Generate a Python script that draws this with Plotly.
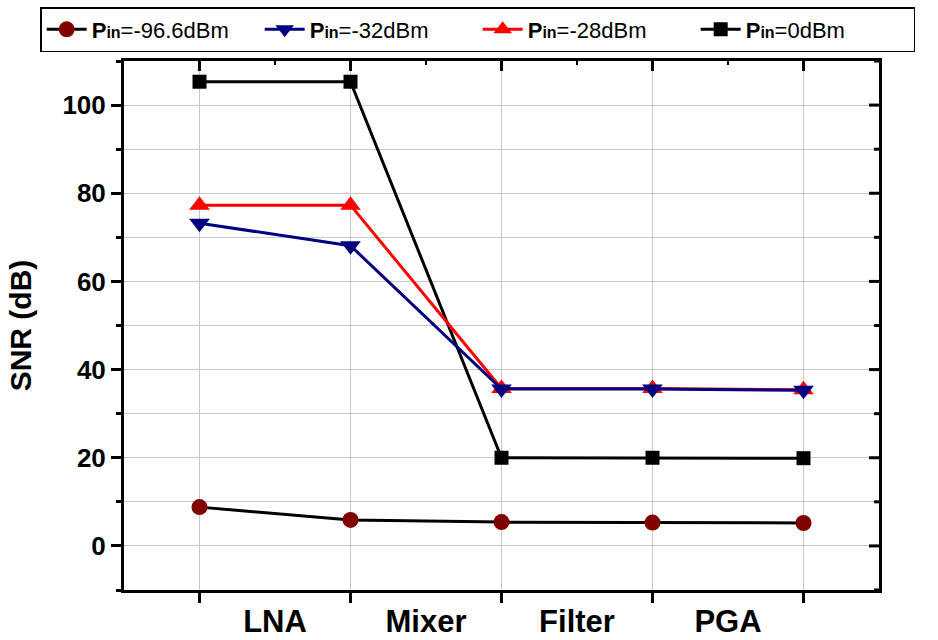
import plotly.graph_objects as go

# x positions: input of LNA, after LNA, after Mixer, after Filter, after PGA
x_pos = [1, 2, 3, 4, 5]
stage_pos = [1.5, 2.5, 3.5, 4.5]
stage_labels = ["LNA", "Mixer", "Filter", "PGA"]
y_major = [0, 20, 40, 60, 80, 100]
y_minor = [-10, 10, 30, 50, 70, 90, 110]

snr_m96 = [8.8, 5.9, 5.4, 5.3, 5.2]
snr_m32 = [73.2, 68.1, 35.6, 35.6, 35.3]
snr_m28 = [77.3, 77.3, 35.7, 35.7, 35.4]
snr_0 = [105.3, 105.3, 20.0, 20.0, 19.9]

FONT = "Arial, Liberation Sans, sans-serif"


def lname(v):
    return "<b>P<span style='font-size:16px'>in</span></b>=" + v + "dBm"


fig = go.Figure()

fig.add_trace(go.Scatter(
    x=x_pos, y=snr_m96, mode="lines+markers", name=lname("-96.6"), legendrank=1,
    line=dict(color="black", width=3),
    marker=dict(symbol="circle", size=16, color="#800000", line=dict(width=0))))
fig.add_trace(go.Scatter(
    x=x_pos, y=snr_0, mode="lines+markers", name=lname("0"), legendrank=4,
    line=dict(color="black", width=3),
    marker=dict(symbol="square", size=14, color="black", line=dict(width=0))))
fig.add_trace(go.Scatter(
    x=x_pos, y=snr_m28, mode="lines+markers", name=lname("-28"), legendrank=3,
    line=dict(color="#ff0000", width=3),
    marker=dict(symbol="triangle-up", size=18, color="#ff0000", line=dict(width=0))))
fig.add_trace(go.Scatter(
    x=x_pos, y=snr_m32, mode="lines+markers", name=lname("-32"), legendrank=2,
    line=dict(color="#000080", width=3),
    marker=dict(symbol="triangle-down", size=18, color="#000080", line=dict(width=0))))

grid = "#c8c8c8"

# inward ticks on the mirrored top and right axes
shapes = []
for v in x_pos:
    shapes.append(dict(type="line", xref="x", x0=v, x1=v, yref="paper", ysizemode="pixel",
                       yanchor=1, y0=0, y1=-10, line=dict(color="black", width=3)))
for v in stage_pos:
    shapes.append(dict(type="line", xref="x", x0=v, x1=v, yref="paper", ysizemode="pixel",
                       yanchor=1, y0=0, y1=-4, line=dict(color="black", width=2)))
for v in y_major:
    shapes.append(dict(type="line", yref="y", y0=v, y1=v, xref="paper", xsizemode="pixel",
                       xanchor=1, x0=0, x1=-10, line=dict(color="black", width=3)))
for v in y_minor:
    shapes.append(dict(type="line", yref="y", y0=v, y1=v, xref="paper", xsizemode="pixel",
                       xanchor=1, x0=0, x1=-5, line=dict(color="black", width=3)))

fig.update_layout(
    width=938, height=640,
    margin=dict(l=124, r=59, t=61, b=50, autoexpand=False),
    paper_bgcolor="white", plot_bgcolor="white",
    font=dict(family=FONT, color="black"),
    showlegend=True,
    shapes=shapes,
    legend=dict(
        orientation="h", x=-0.111, xanchor="left", y=1.102, yanchor="top",
        bgcolor="white", bordercolor="black", borderwidth=1.5,
        font=dict(family=FONT, size=22, color="black"),
        entrywidth=163, itemwidth=40, traceorder="normal",
    ),
    xaxis=dict(
        range=[0.5, 5.5], tickmode="array", tickvals=stage_pos, ticktext=stage_labels,
        ticks="", showgrid=False, zeroline=False, automargin=False,
        showline=True, linewidth=3, linecolor="black", mirror=True,
        tickfont=dict(family=FONT, size=31, color="black", weight="bold"),
        ticklabelstandoff=2,
        minor=dict(tickmode="array", tickvals=x_pos, ticks="outside", ticklen=10,
                   tickwidth=3, tickcolor="black", showgrid=True, gridcolor=grid, gridwidth=1),
    ),
    yaxis=dict(
        range=[-10, 110], tickmode="array", tickvals=y_major,
        ticks="outside", ticklen=10, tickwidth=3, tickcolor="black",
        showline=True, linewidth=3, linecolor="black", zeroline=False, mirror=True,
        showgrid=True, gridcolor=grid, gridwidth=1, automargin=False,
        tickfont=dict(family=FONT, size=26, color="black", weight="bold"),
        minor=dict(tickmode="array", tickvals=y_minor, ticks="outside", ticklen=5, tickwidth=3,
                   tickcolor="black", showgrid=True, gridcolor=grid, gridwidth=1),
        title=dict(text="SNR (dB)", font=dict(family=FONT, size=30, color="black", weight="bold"),
                   standoff=22),
    ),
)

fig.write_html("out.html", config={"displayModeBar": False},
               post_script="document.body.style.margin='0';")
